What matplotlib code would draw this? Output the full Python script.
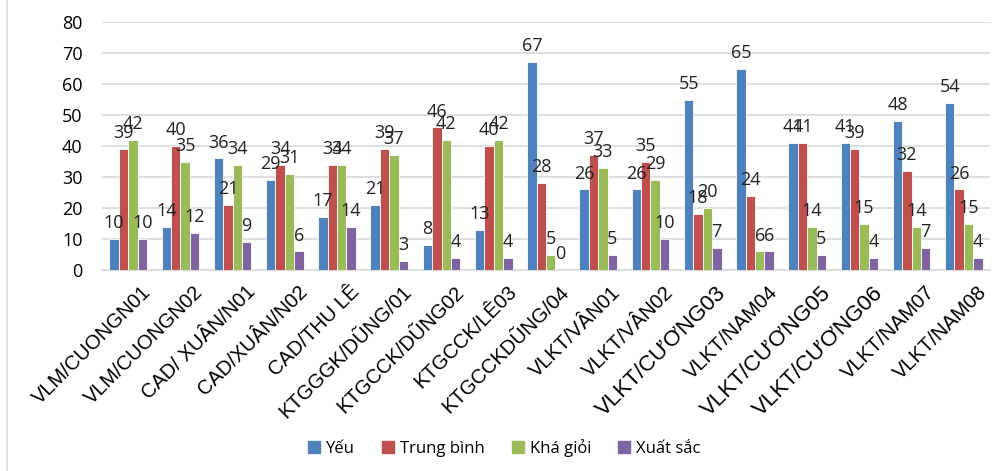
import matplotlib.pyplot as plt
import numpy as np
from matplotlib.lines import Line2D

classes = ["VLM/CUONGN01", "VLM/CUONGN02", "CAD/ XUÂN/N01", "CAD/XUÂN/N02",
           "CAD/THU LÊ", "KTGGGK/DŨNG/01", "KTGCCK/DŨNG02", "KTGCCK/LÊ03",
           "KTGCCKDŨNG/04", "VLKT/VÂN01", "VLKT/VÂN02", "VLKT/CƯƠNG03",
           "VLKT/NAM04", "VLKT/CƯƠNG05", "VLKT/CƯƠNG06", "VLKT/NAM07", "VLKT/NAM08"]
yeu = [10, 14, 36, 29, 17, 21, 8, 13, 67, 26, 26, 55, 65, 41, 41, 48, 54]
trung_binh = [39, 40, 21, 34, 34, 39, 46, 40, 28, 37, 35, 18, 24, 41, 39, 32, 26]
kha_gioi = [42, 35, 34, 31, 34, 37, 42, 42, 5, 33, 29, 20, 6, 14, 15, 14, 15]
xuat_sac = [10, 12, 9, 6, 14, 3, 4, 4, 0, 5, 10, 7, 6, 5, 4, 7, 4]

series_names = ["Yếu", "Trung bình", "Khá giỏi", "Xuất sắc"]
colors = ["#4F81BD", "#C0504D", "#9BBB59", "#8064A2"]

fig = plt.figure(figsize=(10.08, 4.71), dpi=100)
ax = fig.add_axes([102 / 1008, 1 - 270 / 471, 888 / 1008, 248 / 471])

x = np.arange(len(classes))
w = 0.18
for i, (vals, c) in enumerate(zip([yeu, trung_binh, kha_gioi, xuat_sac], colors)):
    pos = x + (i - 1.5) * w
    ax.bar(pos, vals, width=w, color=c, edgecolor="white", linewidth=0.6, zorder=3)
    for px, v in zip(pos, vals):
        ax.text(px, v + 2.2, str(v), ha="center", va="bottom", fontsize=13,
                family="Open Sans", color="#222222", zorder=4)

ax.set_xlim(-0.5, len(classes) - 0.5)
ax.set_ylim(0, 80)
ax.set_yticks(range(0, 81, 10))
ax.yaxis.grid(True, color="#D9D9D9", linewidth=1.2, zorder=0)
ax.tick_params(axis="y", length=0, labelsize=13, pad=14)
for lbl in ax.get_yticklabels():
    lbl.set_family("Open Sans")
for s in ["top", "right", "left"]:
    ax.spines[s].set_visible(False)
ax.spines["bottom"].set_color("#D9D9D9")
ax.spines["bottom"].set_linewidth(1.2)

# rotated category names, the CƯƠNG ones come out a bit larger
ax.set_xticks(x)
ax.set_xticklabels([])
ax.tick_params(axis="x", length=0)
for xi, name in zip(x, classes):
    size = 16 if "CƯƠNG" in name else 14.5
    ax.text(xi + 0.25, -4, name, rotation=45, ha="right", va="top",
            rotation_mode="anchor", fontsize=size, family="Liberation Sans",
            transform=ax.transData, clip_on=False)

handles = [Line2D([], [], marker="s", linestyle="none", markersize=9,
                  markerfacecolor=c, markeredgecolor=c) for c in colors]
fig.legend(handles, series_names, loc="center", ncol=4,
           bbox_to_anchor=(0.5, 1 - 448 / 471), frameon=False,
           prop={"family": "Open Sans", "size": 12},
           handlelength=0.8, handletextpad=0.3, columnspacing=1.6)

fig.add_artist(Line2D([7 / 1008, 7 / 1008], [0, 1], color="#D9D9D9", linewidth=1.2))

fig.savefig("out.png", dpi=100)
